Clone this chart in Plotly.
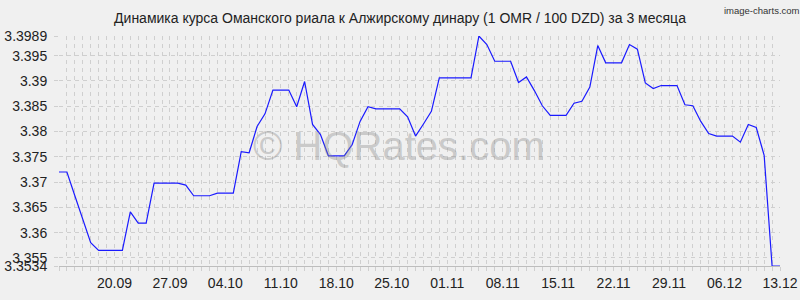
import pandas as pd
import plotly.graph_objects as go

# ---- data ----
start_date = "2019-09-13"
rates = [
    3.3720, 3.3720, 3.3673, 3.3627, 3.3580, 3.3565, 3.3565, 3.3565, 3.3565, 3.3641,
    3.3619, 3.3619, 3.3698, 3.3698, 3.3698, 3.3698, 3.3694, 3.3673, 3.3673, 3.3673,
    3.3678, 3.3678, 3.3678, 3.3760, 3.3758, 3.3810, 3.3835, 3.3882, 3.3882, 3.3882,
    3.3849, 3.3899, 3.3814, 3.3794, 3.3752, 3.3752, 3.3752, 3.3774, 3.3820, 3.3849,
    3.3845, 3.3845, 3.3845, 3.3845, 3.3829, 3.3791, 3.3815, 3.3840, 3.3906, 3.3906,
    3.3906, 3.3906, 3.3906, 3.3989, 3.3972, 3.3939, 3.3939, 3.3939, 3.3897, 3.3908,
    3.3881, 3.3851, 3.3832, 3.3832, 3.3832, 3.3856, 3.3860, 3.3888, 3.3970, 3.3936,
    3.3936, 3.3936, 3.3972, 3.3963, 3.3896, 3.3885, 3.3891, 3.3891, 3.3891, 3.3853,
    3.3851, 3.3820, 3.3796, 3.3791, 3.3791, 3.3791, 3.3779, 3.3814, 3.3808, 3.3753,
    3.3534, 3.3534,
]
x_labels = ["20.09", "27.09", "04.10", "11.10", "18.10", "25.10", "01.11",
            "08.11", "15.11", "22.11", "29.11", "06.12", "13.12"]
y_ticks = [3.3534, 3.355, 3.36, 3.365, 3.37, 3.375, 3.38, 3.385, 3.39, 3.395, 3.3989]
y_ticktext = ["3.3534", "3.355", "3.36", "3.365", "3.37", "3.375", "3.38",
              "3.385", "3.39", "3.395", "3.3989"]
title_text = "Динамика курса Оманского риала к Алжирскому динару (1 OMR / 100 DZD) за 3 месяца"
watermark = "© HQRates.com"
credit = "image-charts.com"

dates = pd.date_range(start_date, periods=len(rates), freq="D")
label_dates = [d for d in dates if d.strftime("%d.%m") in x_labels]
label_text = [d.strftime("%d.%m") for d in label_dates]

FONT = "Liberation Sans, Arial, sans-serif"
GRID = "#cfcfcf"

fig = go.Figure()
fig.add_trace(go.Scatter(
    x=dates, y=rates, mode="lines",
    line=dict(color="#1a1aff", width=1.2),
    hoverinfo="x+y",
))

fig.update_layout(
    width=800, height=300,
    margin=dict(l=59, r=20, t=36, b=34, autoexpand=False),
    paper_bgcolor="#f0f0f0",
    plot_bgcolor="#f0f0f0",
    showlegend=False,
    font=dict(family=FONT, color="#222222"),
    title=dict(text=title_text, x=0.5, xanchor="center", y=0.94, yanchor="middle",
               yref="container", font=dict(size=14, color="#222222", family=FONT)),
    xaxis=dict(
        type="date",
        automargin=False,
        range=[dates[0], dates[-1]],
        tickvals=label_dates, ticktext=label_text,
        tickfont=dict(size=14, color="#222222"),
        ticks="outside", ticklen=4, tickcolor=GRID,
        showgrid=True, gridcolor=GRID, griddash="4px,4px", gridwidth=1,
        minor=dict(dtick=86400000, tick0=dates[0], showgrid=True, gridcolor=GRID,
                   griddash="4px,4px", gridwidth=1, ticks="outside", ticklen=4,
                   tickcolor=GRID),
        showline=True, linecolor="#bdbdbd", linewidth=1,
        zeroline=False, fixedrange=True,
    ),
    yaxis=dict(
        automargin=False,
        range=[y_ticks[0], y_ticks[-1]],
        tickvals=y_ticks, ticktext=y_ticktext,
        tickfont=dict(size=14, color="#222222"),
        ticks="outside", ticklen=4, tickcolor=GRID,
        ticklabelstandoff=4,
        showgrid=True, gridcolor=GRID, griddash="4px,4px", gridwidth=1,
        showline=False, zeroline=False, fixedrange=True,
    ),
    annotations=[
        dict(text=watermark, xref="paper", yref="paper", x=0.471, y=0.522,
             xanchor="center", yanchor="middle", showarrow=False,
             font=dict(size=40, color="rgba(140,140,140,0.4)", family=FONT)),
        dict(text=credit, xref="paper", yref="paper", x=1.0, y=1.0,
             xanchor="right", yanchor="top", showarrow=False,
             xshift=22, yshift=33,
             font=dict(size=9.5, color="#333333", family=FONT)),
    ],
)

fig.write_html("out.html")
